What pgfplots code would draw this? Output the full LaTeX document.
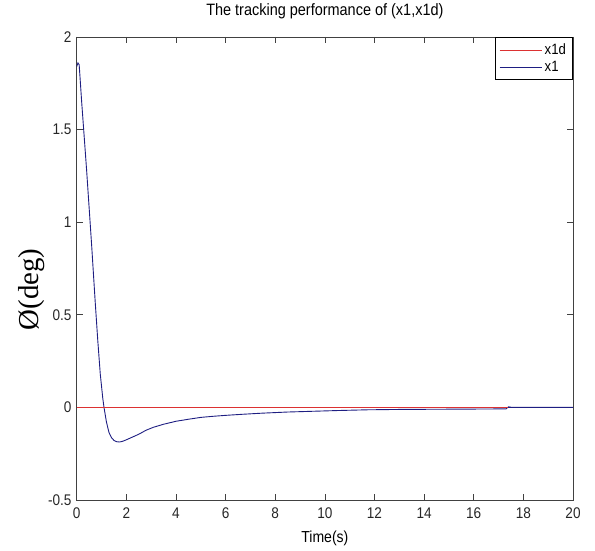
\documentclass[border=0pt]{standalone}
\usepackage{fontspec}
\setmainfont{Liberation Sans}[FakeStretch=0.88]
\newfontfamily\serif{Liberation Serif}
\usepackage{pgfplots}
\pgfplotsset{compat=1.18}
\definecolor{mred}{RGB}{220,50,50}
\definecolor{mblue}{RGB}{30,30,130}
\definecolor{axgray}{RGB}{65,65,65}

\begin{document}
\begin{tikzpicture}[x=1bp,y=1bp]
\useasboundingbox (0,0) rectangle (595,551);
\begin{axis}[
  at={(76.7bp,51bp)}, anchor=south west,
  scale only axis, width=496.3bp, height=463bp,
  xmin=0, xmax=20, ymin=-0.5, ymax=2,
  xtick={0,2,4,6,8,10,12,14,16,18,20},
  ytick={-0.5,0,0.5,1,1.5,2},
  tick align=inside, tick pos=both,
  major tick length=6bp,
  tick style={axgray, line width=0.7bp},
  axis line style={axgray, line width=0.9bp},
  /pgf/number format/assume math mode=true,
  ticklabel style={font=\fontsize{15.5}{17}\selectfont, text=black!85},
  xticklabel style={anchor=center, inner sep=0pt, yshift=-13bp},
  yticklabel style={anchor=east, inner sep=0pt, xshift=-5bp},
  title={The tracking performance of (x1,x1d)},
  title style={font=\fontsize{16.5}{18}\selectfont, inner sep=0pt,
               at={(axis description cs:0.5,1)}, anchor=center, yshift=20bp},
  xlabel={Time(s)},
  xlabel style={font=\fontsize{16}{18}\selectfont, inner sep=0pt,
                at={(axis description cs:0.5,0)}, anchor=center, yshift=-38bp},
  ylabel={\serif Ø(deg)},
  ylabel style={font=\fontsize{29}{31}\selectfont, inner sep=0pt,
                at={(axis description cs:-0.090,0.455)}, anchor=center},
  legend style={at={(1,1)}, anchor=north east, draw=black, line width=1.2bp,
                font=\fontsize{15}{17}\selectfont, inner xsep=4bp, inner ysep=4bp,
                row sep=0bp, nodes={inner sep=2.5bp}},
  legend cell align=left,
  legend image code/.code={\draw[#1, line width=1bp] (0bp,0bp) -- (42bp,0bp);},
]
\addlegendimage{draw=mred}
\addlegendentry{x1d}
\addlegendimage{draw=mblue}
\addlegendentry{x1}
% x1 first, x1d drawn over it
\addplot[draw=mblue, line width=0.9bp, forget plot] coordinates {
  (0,1.84) (0.05,1.86) (0.1,1.85) (0.2,1.65) (0.4,1.28) (0.6,0.88) (0.75,0.56)
  (0.85,0.36) (0.95,0.18) (1.05,0.05) (1.1,0) (1.2,-0.08) (1.3,-0.135)
  (1.4,-0.163) (1.5,-0.178) (1.6,-0.185) (1.72,-0.187) (1.85,-0.183)
  (2.0,-0.175) (2.2,-0.163) (2.5,-0.145) (2.8,-0.123) (3.1,-0.107)
  (3.5,-0.091) (4.0,-0.075) (4.5,-0.064) (5.0,-0.054) (5.5,-0.048)
  (6,-0.043) (6.7,-0.037) (7.5,-0.031) (8.5,-0.025) (9.5,-0.021)
  (10.5,-0.017) (11.7,-0.013) (13,-0.011) (14.5,-0.010) (16,-0.009)
  (17.3,-0.008) (17.4,0.003) (17.55,0) (20,0)};
\addplot[draw=mred, line width=1bp, forget plot] coordinates {(0,0) (17.4,0)};
\addplot[draw=mblue, line width=0.9bp, forget plot] coordinates {(17.4,0) (20,0)};
\end{axis}
\end{tikzpicture}
\end{document}
